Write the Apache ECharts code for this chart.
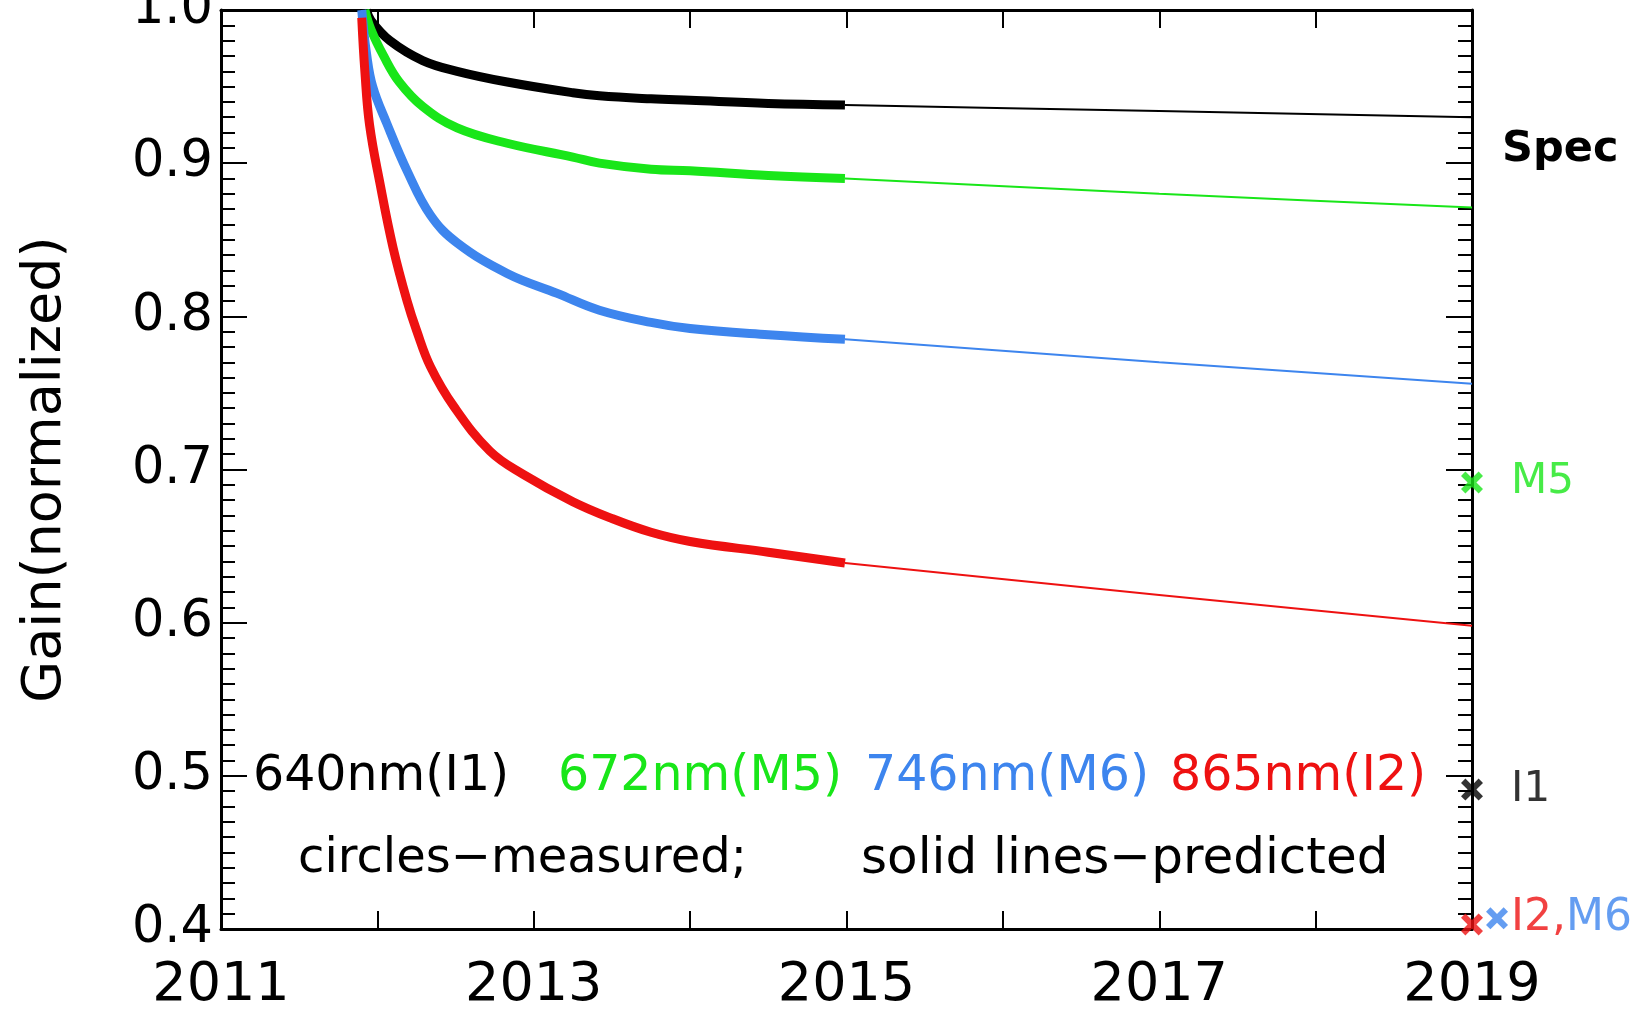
<!DOCTYPE html>
<head>
    <meta charset="utf-8">
    <title>Gain (normalized)</title>
    <script src="https://cdn.jsdelivr.net/npm/echarts@6/dist/echarts.min.js"></script>
    <style>
        html, body { margin: 0; padding: 0; background: #fff; }
    </style>
</head>
<body>
    <div id="main" style="width:1644px;height:1018px"></div>
    <script type="text/javascript">
        // measured gain (thick curves) per band
        var i1Years = [2011.93, 2011.96, 2012.08, 2012.29, 2012.51, 2012.83, 2013.25, 2013.42, 2013.75, 2014.00, 2014.50, 2014.99];
        var i1Gain  = [1.000, 0.993, 0.980, 0.967, 0.960, 0.953, 0.946, 0.944, 0.942, 0.941, 0.939, 0.938];

        var m5Years = [2011.92, 2011.96, 2012.04, 2012.14, 2012.29, 2012.51, 2012.83, 2013.25, 2013.42, 2013.75, 2014.00, 2014.50, 2014.99];
        var m5Gain  = [1.000, 0.987, 0.970, 0.953, 0.937, 0.923, 0.913, 0.904, 0.900, 0.896, 0.895, 0.892, 0.890];

        var m6Years = [2011.90, 2011.93, 2011.97, 2012.06, 2012.19, 2012.34, 2012.51, 2012.83, 2013.15, 2013.42, 2013.75, 2014.00, 2014.50, 2014.99];
        var m6Gain  = [1.000, 0.972, 0.950, 0.926, 0.895, 0.866, 0.848, 0.828, 0.815, 0.804, 0.796, 0.792, 0.788, 0.785];

        var i2Years = [2011.90, 2011.92, 2011.95, 2012.02, 2012.10, 2012.19, 2012.25, 2012.34, 2012.49, 2012.72, 2012.93, 2013.25, 2013.50, 2013.75, 2014.00, 2014.50, 2014.99];
        var i2Gain  = [0.995, 0.960, 0.925, 0.885, 0.845, 0.810, 0.791, 0.767, 0.741, 0.712, 0.697, 0.679, 0.668, 0.659, 0.653, 0.646, 0.639];

        // predicted gain (thin lines)
        var predYears = [2014.99, 2017, 2019];
        var i1Pred = [0.938, 0.934, 0.930];
        var m5Pred = [0.890, 0.880, 0.871];
        var m6Pred = [0.785, 0.770, 0.756];
        var i2Pred = [0.639, 0.618, 0.598];

        // spec markers at the right edge
        var specI1 = [2019, 0.491];
        var specM5 = [2019, 0.6915];
        var specI2 = [2019, 0.403];
        var specM6 = [2019.16, 0.407];

        var colBlack = '#000000', colGreen = '#19e619', colBlue = '#3d85ee', colRed = '#ee1111';
        var font = 'DejaVu Sans';
        var xMark = 'path://M0,2 L2,0 L5,3 L8,0 L10,2 L7,5 L10,8 L8,10 L5,7 L2,10 L0,8 L3,5 Z';

        function pairs(xs, ys) {
            var out = [];
            for (var i = 0; i < xs.length; i++) out.push([xs[i], ys[i]]);
            return out;
        }
        function measured(name, xs, ys, color) {
            return { name: name, type: 'line', data: pairs(xs, ys), showSymbol: false, symbol: 'none',
                     smooth: 0.4, lineStyle: { color: color, width: 9 }, z: 3 };
        }
        function predicted(name, ys, color) {
            return { name: name, type: 'line', data: pairs(predYears, ys), showSymbol: false, symbol: 'none',
                     smooth: 0.2, lineStyle: { color: color, width: 2 }, z: 2 };
        }
        function spec(pt, color, label) {
            return { type: 'scatter', data: [pt], symbol: xMark, symbolSize: 22, clip: false,
                     itemStyle: { color: color }, label: label, z: 5 };
        }

        var myChart = echarts.init(document.getElementById('main'));
        var tickStyle = { color: '#000', width: 2 };
        var option = {
            animation: false,
            backgroundColor: '#fff',
            grid: { left: 221, right: 172, top: 10, bottom: 89, containLabel: false, outerBoundsMode: 'none' },
            xAxis: [
                {
                    type: 'value', min: 2011, max: 2019, interval: 1, position: 'bottom',
                    axisLine: { onZero: false, lineStyle: { color: '#000', width: 3 } },
                    axisTick: { inside: true, length: 18, lineStyle: tickStyle },
                    axisLabel: { color: '#000', fontFamily: font, fontSize: 54, margin: 30,
                                 formatter: function (v) { return (v - 2011) % 2 === 0 ? String(v) : ''; } },
                    splitLine: { show: false }
                },
                {
                    type: 'value', min: 2011, max: 2019, interval: 1, position: 'top',
                    axisLine: { onZero: false, lineStyle: { color: '#000', width: 3 } },
                    axisTick: { inside: true, length: 18, lineStyle: tickStyle },
                    axisLabel: { show: false },
                    splitLine: { show: false }
                }
            ],
            yAxis: [
                {
                    type: 'value', min: 0.4, max: 1.0, interval: 0.1, position: 'left',
                    name: 'Gain(normalized)', nameLocation: 'middle', nameGap: 148,
                    nameTextStyle: { color: '#000', fontFamily: font, fontSize: 54 },
                    axisLine: { show: true, onZero: false, lineStyle: { color: '#000', width: 3 } },
                    axisTick: { show: true, inside: true, length: 26, lineStyle: tickStyle },
                    minorTick: { show: true, splitNumber: 10, length: 14, lineStyle: tickStyle },
                    axisLabel: { color: '#000', fontFamily: font, fontSize: 51, margin: 8,
                                 formatter: function (v) { return v.toFixed(1); } },
                    splitLine: { show: false }
                },
                {
                    type: 'value', min: 0.4, max: 1.0, interval: 0.1, position: 'right',
                    axisLine: { show: true, onZero: false, lineStyle: { color: '#000', width: 3 } },
                    axisTick: { show: true, inside: true, length: 26, lineStyle: tickStyle },
                    minorTick: { show: true, splitNumber: 10, length: 14, lineStyle: tickStyle },
                    axisLabel: { show: false },
                    splitLine: { show: false }
                }
            ],
            series: [
                predicted('I1 predicted', i1Pred, colBlack),
                predicted('M5 predicted', m5Pred, colGreen),
                predicted('M6 predicted', m6Pred, colBlue),
                predicted('I2 predicted', i2Pred, colRed),
                measured('640nm(I1)', i1Years, i1Gain, colBlack),
                measured('672nm(M5)', m5Years, m5Gain, colGreen),
                measured('746nm(M6)', m6Years, m6Gain, colBlue),
                measured('865nm(I2)', i2Years, i2Gain, colRed),
                spec(specM5, colGreen, { show: true, position: 'right', distance: 28, formatter: 'M5',
                                         color: colGreen, fontFamily: font, fontSize: 42 }),
                spec(specI1, colBlack, { show: true, position: 'right', distance: 28, formatter: 'I1',
                                         color: colBlack, fontFamily: font, fontSize: 42 }),
                spec(specI2, colRed, { show: false }),
                spec(specM6, colBlue, { show: true, position: 'right', distance: 3, formatter: '{r|I2,}{b|M6}',
                                        fontFamily: font, fontSize: 44,
                                        rich: { r: { color: colRed, fontFamily: font, fontSize: 44 },
                                                b: { color: colBlue, fontFamily: font, fontSize: 44 } } })
            ],
            graphic: [
                { type: 'text', x: 1502, y: 150, style: { text: 'Spec', fill: '#000', fontFamily: font, fontSize: 43, fontWeight: 'bold', verticalAlign: 'middle' } },
                { type: 'text', x: 253, y: 777, style: { text: '640nm(I1)', fill: colBlack, fontFamily: font, fontSize: 49, verticalAlign: 'middle' } },
                { type: 'text', x: 558, y: 777, style: { text: '672nm(M5)', fill: colGreen, fontFamily: font, fontSize: 49, verticalAlign: 'middle' } },
                { type: 'text', x: 865, y: 777, style: { text: '746nm(M6)', fill: colBlue, fontFamily: font, fontSize: 49, verticalAlign: 'middle' } },
                { type: 'text', x: 1170, y: 777, style: { text: '865nm(I2)', fill: colRed, fontFamily: font, fontSize: 49, verticalAlign: 'middle' } },
                { type: 'text', x: 298, y: 860, style: { text: 'circles\u2212measured;', fill: '#000', fontFamily: font, fontSize: 48, verticalAlign: 'middle' } },
                { type: 'text', x: 861, y: 860, style: { text: 'solid lines\u2212predicted', fill: '#000', fontFamily: font, fontSize: 50, verticalAlign: 'middle' } }
            ]
        };
        myChart.setOption(option);
    </script>
</body>
